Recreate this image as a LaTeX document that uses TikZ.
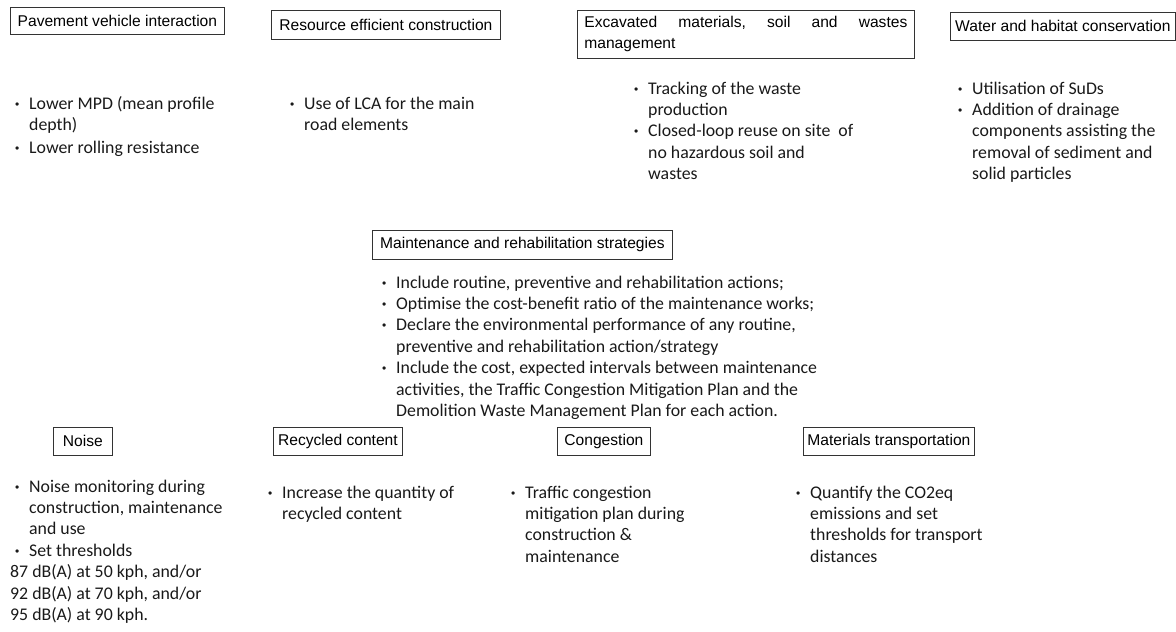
\documentclass[tikz,border=0pt]{standalone}
\usepackage{fontspec}
\setmainfont{Carlito}
\newfontfamily\arialf{Liberation Sans}
\newcommand{\bu}{\makebox[14pt][l]{\arialf\fontsize{12}{12}\selectfont\raisebox{1pt}{•}}}
\newcommand{\ind}{\hspace*{14pt}}
\newcommand{\lines}[1]{\begin{tabular}[t]{@{}l@{}}#1\end{tabular}}
\begin{document}
\begin{tikzpicture}[x=1pt,y=-1pt,
  box/.style={draw=black!80, line width=0.8pt, font=\arialf\fontsize{15.6}{21}\selectfont, inner sep=0pt, anchor=north west},
  body/.style={font=\fontsize{17.8}{21.4}\selectfont, inner sep=0pt, anchor=base west, text=black!90}]
\useasboundingbox (0,0) rectangle (1176,632);
% top row boxes
\node[box, minimum width=214, minimum height=27] (b1) at (10,7) {Pavement vehicle interaction};
\node[box, minimum width=229, minimum height=29] (b2) at (271,10) {Resource efficient construction};
\node[box, minimum width=337, minimum height=48, text width=323, align=left] (b3) at (577,10) {Excavated\hfill materials,\hfill soil\hfill and\hfill wastes\\ management};
\node[box, minimum width=225, minimum height=28] (b4) at (950,12) {Water and habitat conservation};
% middle box
\node[box, minimum width=300, minimum height=29] (bm) at (372,230) {Maintenance and rehabilitation strategies};
% bottom row boxes
\node[box, minimum width=59, minimum height=28] (b5) at (53,427) {Noise};
\node[box, minimum width=129, minimum height=28] (b6) at (273,427) {Recycled content};
\node[box, minimum width=93, minimum height=28] (b7) at (557,427) {Congestion};
\node[box, minimum width=171, minimum height=28] (b8) at (803,427) {Materials transportation};
% body texts
\node[body] (t1) at (15,109) {\lines{\bu Lower MPD (mean profile\\ \ind depth)\\[2pt] \bu Lower rolling resistance}};
\node[body] (t2) at (290,109) {\lines{\bu Use of LCA for the main\\ \ind road elements}};
\node[body] (t3) at (634,94) {\lines{\bu Tracking of the waste\\ \ind production\\ \bu Closed-loop reuse on site\ \ of\\ \ind no hazardous soil and\\ \ind wastes}};
\node[body] (t4) at (958,94) {\lines{\bu Utilisation of SuDs\\ \bu Addition of drainage\\ \ind components assisting the\\ \ind removal of sediment and\\ \ind solid particles}};
\node[body] (tm) at (382,288) {\lines{\bu Include routine, preventive and rehabilitation actions;\\ \bu Optimise the cost-benefit ratio of the maintenance works;\\ \bu Declare the environmental performance of any routine,\\ \ind preventive and rehabilitation action/strategy\\ \bu Include the cost, expected intervals between maintenance\\ \ind activities, the Traffic Congestion Mitigation Plan and the\\ \ind Demolition Waste Management Plan for each action.}};
\node[body] (t5) at (10,492) {\lines{\hspace*{5pt}\bu Noise monitoring during\\ \hspace*{5pt}\ind construction, maintenance\\ \hspace*{5pt}\ind and use\\ \hspace*{5pt}\bu Set thresholds\\ 87 dB(A) at 50 kph, and/or\\ 92 dB(A) at 70 kph, and/or\\ 95 dB(A) at 90 kph.}};
\node[body] (t6) at (268,498) {\lines{\bu Increase the quantity of\\ \ind recycled content}};
\node[body] (t7) at (511,498) {\lines{\bu Traffic congestion\\ \ind mitigation plan during\\ \ind construction \&\\ \ind maintenance}};
\node[body] (t8) at (796,498) {\lines{\bu Quantify the CO2eq\\ \ind emissions and set\\ \ind thresholds for transport\\ \ind distances}};
\end{tikzpicture}
\end{document}
